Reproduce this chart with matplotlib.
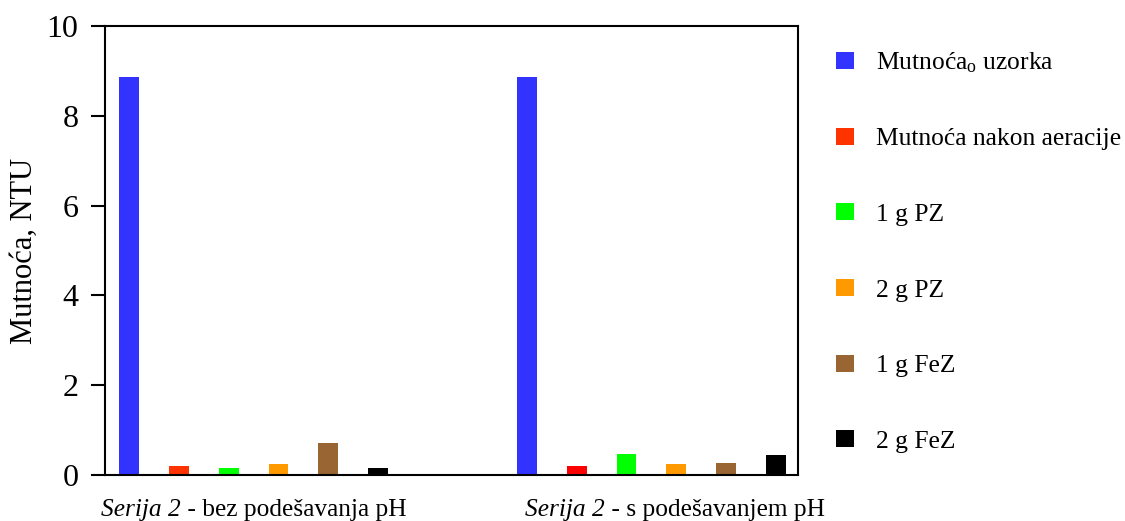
import numpy as np
import matplotlib
matplotlib.use('Agg')
import matplotlib.pyplot as plt
from matplotlib.offsetbox import TextArea, HPacker, AnnotationBbox

plt.rcParams['font.family'] = ['Liberation Serif', 'DejaVu Serif']
plt.rcParams['mathtext.fontset'] = 'custom'
plt.rcParams['mathtext.rm'] = 'Liberation Serif'
plt.rcParams['mathtext.it'] = 'Liberation Serif:italic'

# data
group_series = ['Serija 2', 'Serija 2']
group_rest = [' - bez podešavanja pH', ' - s podešavanjem pH']
series = ['Mutnoća$_{\\mathrm{o}}$ uzorka', 'Mutnoća nakon aeracije',
          '1 g PZ', '2 g PZ', '1 g FeZ', '2 g FeZ']
bez_ph = [8.87, 0.19, 0.15, 0.24, 0.71, 0.15]
s_ph = [8.87, 0.19, 0.46, 0.24, 0.26, 0.44]
colors = [['#3333FF', '#3333FF'], ['#FF3300', '#FF0000'],
          ['#00FF00', '#00FF00'], ['#FF9900', '#FF9900'],
          ['#996633', '#996633'], ['#000000', '#000000']]

values = np.array([bez_ph, s_ph])
group_x = np.array([0, 8])
label_x = [2.51, 10.98]

fig = plt.figure(figsize=(11.25, 5.21), dpi=100)
ax = fig.add_axes([0.0933, 0.0883, 0.6160, 0.8617])

for i, name in enumerate(series):
    ax.bar(group_x + i, values[:, i], width=0.4, color=colors[i], label=name)

ax.set_xlim(-0.49, 13.45)
ax.set_ylim(0, 10)
ax.set_yticks([0, 2, 4, 6, 8, 10])
ax.set_xticks([])
ax.tick_params(axis='y', direction='out', length=10, width=1.5,
               labelsize=23, pad=9)
for s in ax.spines.values():
    s.set_linewidth(1.5)
ax.set_ylabel('Mutnoća, NTU', fontsize=22, labelpad=6)

# category labels: italic series name + normal rest
for x, a, b in zip(label_x, group_series, group_rest):
    box = HPacker(children=[
        TextArea(a, textprops=dict(style='italic', size=18.3)),
        TextArea(b, textprops=dict(size=18.3))], pad=0, sep=0, align='baseline')
    ab = AnnotationBbox(box, (x, 0), xycoords=ax.get_xaxis_transform(),
                        xybox=(0, -17), boxcoords='offset points',
                        box_alignment=(0.5, 1), frameon=False,
                        annotation_clip=False)
    ax.add_artist(ab)

fig.legend(loc='upper left', bbox_to_anchor=(0.743, 0.904), frameon=False,
           fontsize=18.4, labelspacing=2.08, handlelength=0.72,
           handleheight=0.65, handletextpad=0.84, borderpad=0,
           borderaxespad=0)

fig.savefig('out.png', dpi=100)
